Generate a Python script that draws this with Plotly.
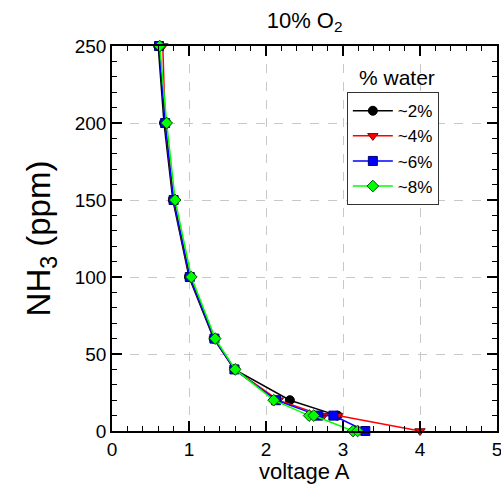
import plotly.graph_objects as go

# NH3 concentration (ppm) versus sensor voltage A at 10% O2, for four water levels
nh3_2 = [250, 200, 150, 100, 60, 40, 20, 10]
volt_2 = [0.60, 0.675, 0.79, 1.00, 1.32, 1.59, 2.31, 2.93]

nh3_4 = [250, 200, 150, 100, 60, 40, 20, 10, 10, 0]
volt_4 = [0.66, 0.69, 0.80, 1.01, 1.33, 1.59, 2.16, 2.745, 2.93, 4.0]

nh3_6 = [250, 200, 150, 100, 60, 40, 20, 10, 10, 0]
volt_6 = [0.61, 0.69, 0.80, 1.01, 1.33, 1.59, 2.13, 2.68, 2.875, 3.29]

nh3_8 = [250, 200, 150, 100, 60, 40, 20, 10, 10, 0, 0]
volt_8 = [0.62, 0.71, 0.82, 1.03, 1.34, 1.60, 2.10, 2.56, 2.62, 3.13, 3.19]

series = [
    ("~2%", volt_2, nh3_2, "#000000", "circle", "#000000"),
    ("~4%", volt_4, nh3_4, "#ff0000", "triangle-down", "#7a0000"),
    ("~6%", volt_6, nh3_6, "#0000ff", "square", "#00007a"),
    ("~8%", volt_8, nh3_8, "#00ff00", "diamond", "#005000"),
]

FONT = "Liberation Sans, Arial, sans-serif"

fig = go.Figure()
for name, xs, ys, col, sym, edge in series:
    fig.add_trace(go.Scatter(
        x=xs, y=ys, name=name, mode="lines+markers",
        line=dict(color=col, width=1.5),
        marker=dict(symbol=sym, size=9, color=col, line=dict(color=edge, width=1)),
        cliponaxis=False,
    ))

axis_common = dict(
    showline=True, linecolor="#000000", linewidth=1.5,
    mirror="allticks", ticks="inside", ticklen=10, tickwidth=1.5, tickcolor="#000000",
    showgrid=True, gridcolor="#c8c8c8", griddash="dash", gridwidth=1,
    zeroline=False, automargin=False, ticklabeloverflow="allow",
    tickfont=dict(family=FONT, size=19, color="#000000"),
)

fig.update_xaxes(
    range=[0, 5], dtick=1, tick0=0,
    minor=dict(dtick=0.2, ticks="inside", ticklen=5, tickwidth=1.2, tickcolor="#000000", showgrid=False),
    **axis_common,
)
fig.update_yaxes(
    range=[0, 250], dtick=50, tick0=0,
    minor=dict(dtick=10, ticks="inside", ticklen=5, tickwidth=1.2, tickcolor="#000000", showgrid=False),
    title=dict(text="NH<sub>3</sub> (ppm)", font=dict(family=FONT, size=33, color="#000000"), standoff=14),
    **axis_common,
)

fig.update_layout(
    width=501, height=499,
    margin=dict(l=112, r=4, t=46, b=68),
    paper_bgcolor="#ffffff", plot_bgcolor="#ffffff",
    title=dict(text="10% O<sub>2</sub>", x=0.608, xanchor="center", y=0.96, yanchor="middle",
               font=dict(family=FONT, size=22, color="#000000")),
    legend=dict(
        x=0.61, y=0.88, xanchor="left", yanchor="top",
        bgcolor="#ffffff", bordercolor="#333333", borderwidth=1,
        font=dict(family=FONT, size=17, color="#000000"),
        tracegroupgap=0, itemwidth=40,
    ),
    annotations=[
        # legend heading sits above the legend box
        dict(text="% water", xref="paper", yref="paper", x=0.74, y=0.883,
             xanchor="center", yanchor="bottom", showarrow=False,
             font=dict(family=FONT, size=21, color="#000000")),
        # x-axis title placed just under the tick labels
        dict(text="voltage A", xref="paper", yref="paper", x=0.5, y=-0.104,
             xanchor="center", yanchor="middle", showarrow=False,
             font=dict(family=FONT, size=22, color="#000000")),
    ],
)

fig.write_html("out.html")
